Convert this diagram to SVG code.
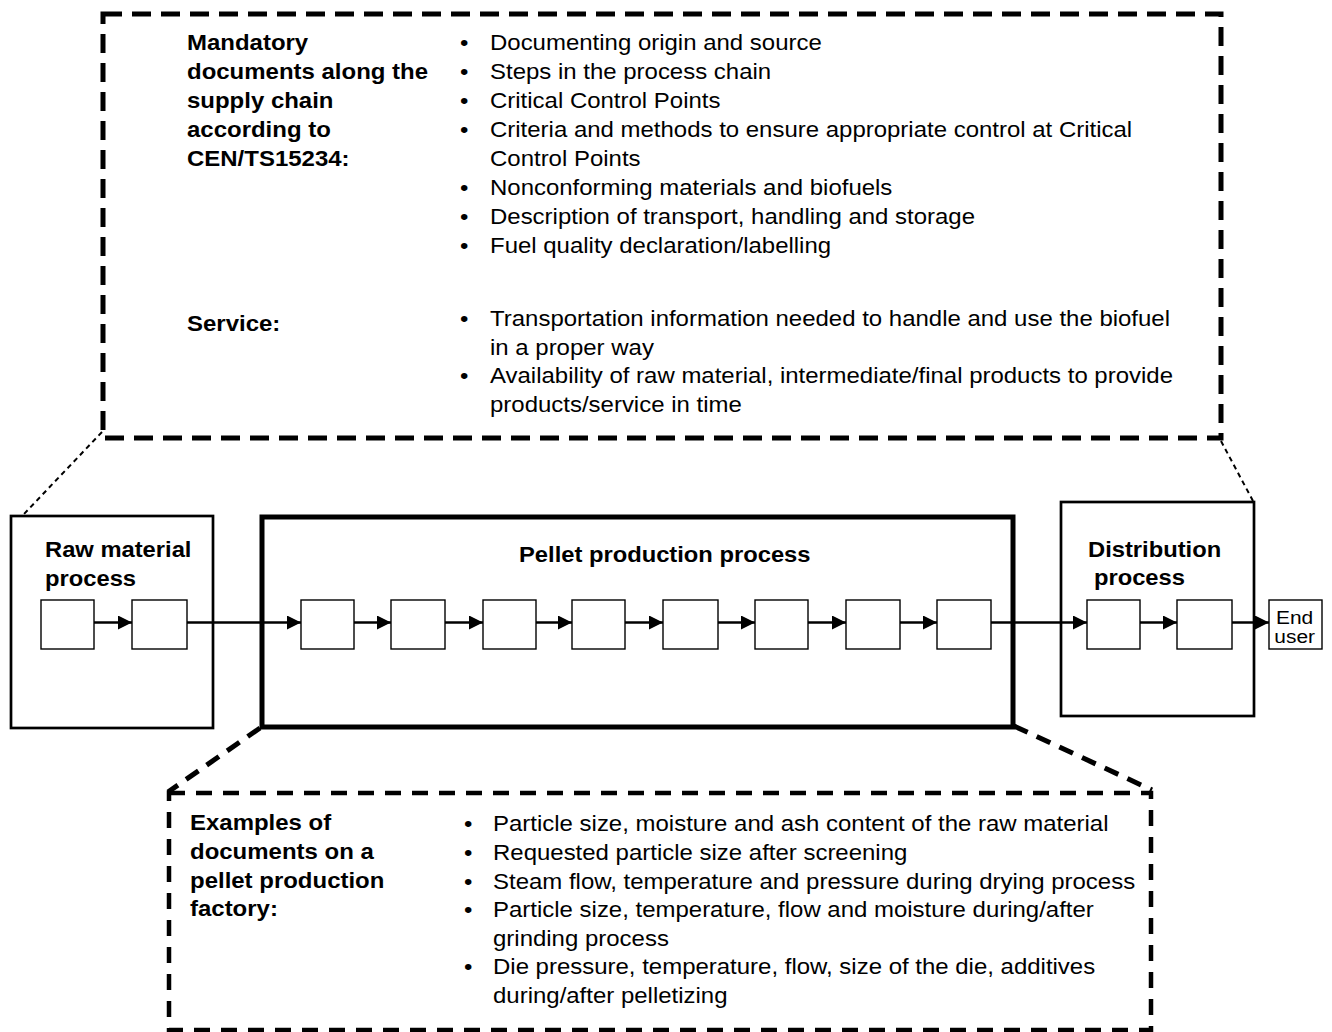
<svg xmlns="http://www.w3.org/2000/svg" width="1332" height="1032" viewBox="0 0 1332 1032">
  <style>
    .t { font-family: "Liberation Sans", Arial, sans-serif; font-size: 22px; fill: #000; }
    .b { font-weight: bold; }
    .eu { font-family: "Liberation Sans", Arial, sans-serif; font-size: 19px; fill: #000; }
    .step { fill: #fff; stroke: #000; stroke-width: 1.4; }
    .proc { fill: #fff; stroke: #000; stroke-width: 2.7; }
    .flow { stroke: #000; stroke-width: 2.5; fill: none; marker-end: url(#arrow); }
    .callout-top { fill: none; stroke: #000; stroke-width: 5; stroke-dasharray: 19 10; }
    .callout-bot { fill: none; stroke: #000; stroke-width: 4.5; stroke-dasharray: 16 11; }
    .lead-fine { stroke: #000; stroke-width: 2; stroke-dasharray: 5 4; fill: none; }
    .lead-bold { stroke: #000; stroke-width: 5; stroke-dasharray: 15 10; fill: none; }
  </style>
  <defs>
    <marker id="arrow" markerUnits="userSpaceOnUse" markerWidth="15" markerHeight="15" refX="14" refY="7" orient="auto">
      <path d="M0,0 L14,7 L0,14 Z" fill="#000"/>
    </marker>
  </defs>

  <rect width="1332" height="1032" fill="#fff"/>

  <!-- Upper callout: documents along the supply chain -->
  <g id="supply-chain-docs">
    <rect class="callout-top" x="103" y="14" width="1118" height="424"/>
    <g transform="translate(187,0) scale(1.09,1)">
      <text class="t b"><tspan x="0" y="50.5">Mandatory</tspan><tspan x="0" y="79.4">documents along the</tspan><tspan x="0" y="108.3">supply chain</tspan><tspan x="0" y="137.2">according to</tspan><tspan x="0" y="165.8">CEN/TS15234:</tspan></text>
      <text class="t b" x="0" y="331.5">Service:</text>
    </g>
    <g transform="translate(460,0) scale(1.09,1)">
      <text class="t"><tspan x="0" y="50.5">•</tspan><tspan x="0" y="79.4">•</tspan><tspan x="0" y="108.3">•</tspan><tspan x="0" y="137.2">•</tspan><tspan x="0" y="195">•</tspan><tspan x="0" y="223.9">•</tspan><tspan x="0" y="252.8">•</tspan><tspan x="0" y="326.5">•</tspan><tspan x="0" y="383.5">•</tspan></text>
    </g>
    <g transform="translate(490,0) scale(1.09,1)">
      <text class="t">
        <tspan x="0" y="50.5">Documenting origin and source</tspan>
        <tspan x="0" y="79.4">Steps in the process chain</tspan>
        <tspan x="0" y="108.3">Critical Control Points</tspan>
        <tspan x="0" y="137.2">Criteria and methods to ensure appropriate control at Critical</tspan>
        <tspan x="0" y="166.1">Control Points</tspan>
        <tspan x="0" y="195">Nonconforming materials and biofuels</tspan>
        <tspan x="0" y="223.9">Description of transport, handling and storage</tspan>
        <tspan x="0" y="252.8">Fuel quality declaration/labelling</tspan>
        <tspan x="0" y="326.5">Transportation information needed to handle and use the biofuel</tspan>
        <tspan x="0" y="355">in a proper way</tspan>
        <tspan x="0" y="383.5">Availability of raw material, intermediate/final products to provide</tspan>
        <tspan x="0" y="412">products/service in time</tspan>
      </text>
    </g>
  </g>

  <!-- Lower callout: documents in the pellet factory -->
  <g id="factory-docs">
    <rect class="callout-bot" x="169" y="793" width="982" height="237"/>
    <g transform="translate(190,0) scale(1.09,1)">
      <text class="t b"><tspan x="0" y="830">Examples of</tspan><tspan x="0" y="859">documents on a</tspan><tspan x="0" y="888">pellet production</tspan><tspan x="0" y="916.5">factory:</tspan></text>
    </g>
    <g transform="translate(464,0) scale(1.09,1)">
      <text class="t"><tspan x="0" y="831.5">•</tspan><tspan x="0" y="860">•</tspan><tspan x="0" y="889">•</tspan><tspan x="0" y="917">•</tspan><tspan x="0" y="974">•</tspan></text>
    </g>
    <g transform="translate(493,0) scale(1.09,1)">
      <text class="t">
        <tspan x="0" y="831.5">Particle size, moisture and ash content of the raw material</tspan>
        <tspan x="0" y="860">Requested particle size after screening</tspan>
        <tspan x="0" y="889">Steam flow, temperature and pressure during drying process</tspan>
        <tspan x="0" y="917">Particle size, temperature, flow and moisture during/after</tspan>
        <tspan x="0" y="946">grinding process</tspan>
        <tspan x="0" y="974">Die pressure, temperature, flow, size of the die, additives</tspan>
        <tspan x="0" y="1003">during/after pelletizing</tspan>
      </text>
    </g>
  </g>

  <!-- Process stages -->
  <g id="raw-material">
    <rect class="proc" x="11" y="516" width="202" height="212"/>
    <g transform="translate(45,0) scale(1.08,1)">
      <text class="t b"><tspan x="0" y="557.3">Raw material</tspan><tspan x="0" y="585.7">process</tspan></text>
    </g>
    <rect class="step" x="41" y="600" width="53" height="49"/>
    <rect class="step" x="132" y="600" width="55" height="49"/>
  </g>

  <g id="pellet-production">
    <rect x="262" y="517" width="751" height="210" fill="#fff" stroke="#000" stroke-width="5"/>
    <g transform="translate(519,0) scale(1.08,1)">
      <text class="t b" x="0" y="562.5">Pellet production process</text>
    </g>
    <rect class="step" x="301" y="600" width="53" height="49"/>
    <rect class="step" x="391" y="600" width="54" height="49"/>
    <rect class="step" x="483" y="600" width="53" height="49"/>
    <rect class="step" x="572" y="600" width="53" height="49"/>
    <rect class="step" x="663" y="600" width="55" height="49"/>
    <rect class="step" x="755" y="600" width="53" height="49"/>
    <rect class="step" x="846" y="600" width="54" height="49"/>
    <rect class="step" x="937" y="600" width="54" height="49"/>
  </g>

  <g id="distribution">
    <rect class="proc" x="1061" y="502" width="193" height="214"/>
    <g transform="translate(1088,0) scale(1.08,1)">
      <text class="t b"><tspan x="0" y="556.7">Distribution</tspan><tspan x="5.5" y="585">process</tspan></text>
    </g>
    <rect class="step" x="1087" y="600" width="53" height="49"/>
    <rect class="step" x="1177" y="600" width="55" height="49"/>
  </g>

  <g id="end-user">
    <rect class="step" x="1269" y="600" width="53" height="49"/>
    <g transform="translate(1276,0) scale(1.1,1)">
      <text class="eu"><tspan x="0" y="624">End</tspan><tspan x="-1.5" y="643">user</tspan></text>
    </g>
  </g>

  <!-- Connectors -->
  <g id="connectors">
    <line class="flow" x1="94" y1="622.5" x2="132" y2="622.5"/>
    <line class="flow" x1="187" y1="622.5" x2="301" y2="622.5"/>
    <line class="flow" x1="354" y1="622.5" x2="391" y2="622.5"/>
    <line class="flow" x1="445" y1="622.5" x2="483" y2="622.5"/>
    <line class="flow" x1="536" y1="622.5" x2="572" y2="622.5"/>
    <line class="flow" x1="625" y1="622.5" x2="663" y2="622.5"/>
    <line class="flow" x1="718" y1="622.5" x2="755" y2="622.5"/>
    <line class="flow" x1="808" y1="622.5" x2="846" y2="622.5"/>
    <line class="flow" x1="900" y1="622.5" x2="937" y2="622.5"/>
    <line class="flow" x1="991" y1="622.5" x2="1087" y2="622.5"/>
    <line class="flow" x1="1140" y1="622.5" x2="1177" y2="622.5"/>
    <line class="flow" x1="1232" y1="622.5" x2="1269" y2="622.5"/>

    <!-- callout leaders -->
    <line class="lead-fine" x1="102" y1="432" x2="24" y2="514"/>
    <line class="lead-fine" x1="1221" y1="441" x2="1253" y2="501"/>
    <line class="lead-bold" x1="260" y1="728" x2="168" y2="792"/>
    <line class="lead-bold" x1="1014" y1="726" x2="1152" y2="790"/>
  </g>
</svg>
